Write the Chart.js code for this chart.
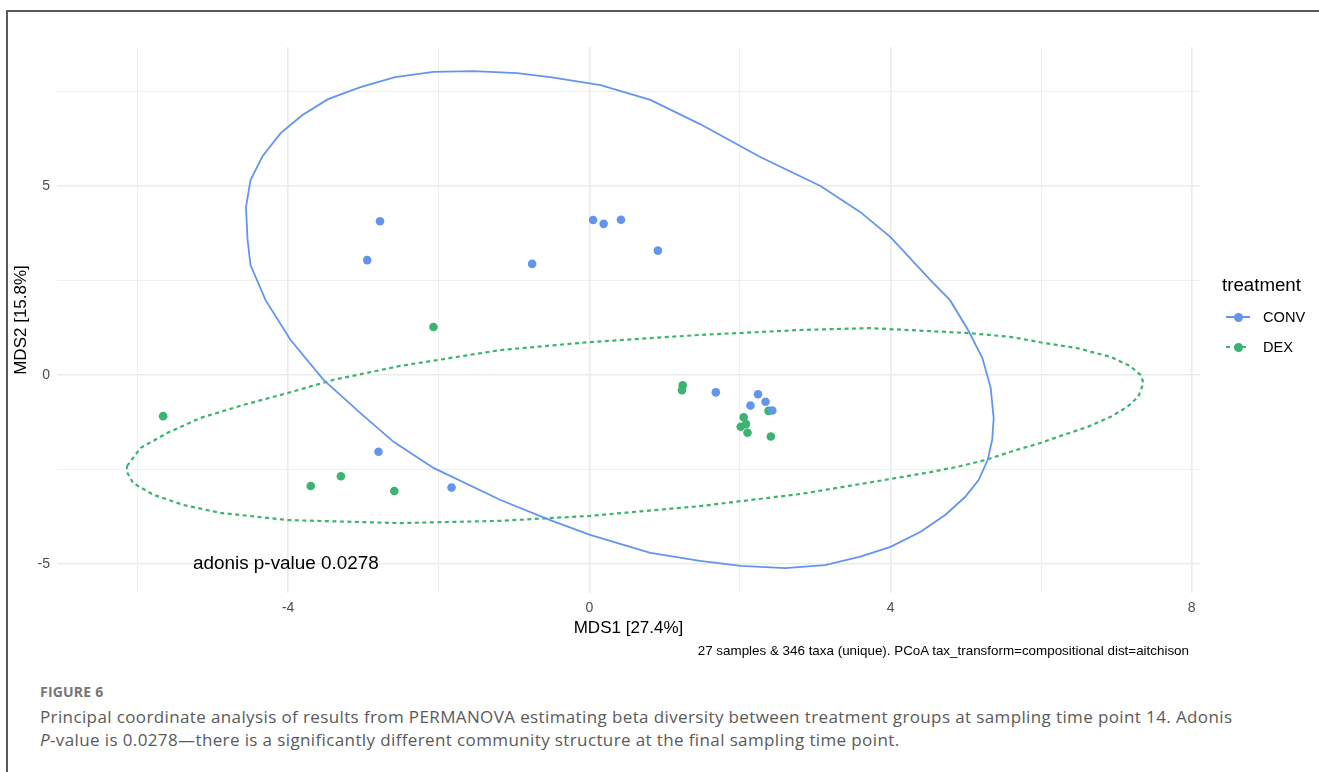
<!DOCTYPE html>
<html>
<head>
<meta charset="utf-8">
<script src="https://cdn.jsdelivr.net/npm/chart.js@4.4.0/dist/chart.umd.min.js"></script>
<style>
body { margin:0; background:#fff; width:1319px; height:772px; overflow:hidden; position:relative; font-family:"Liberation Sans", Arial, sans-serif; }
#frame { position:absolute; left:6px; top:10px; width:1313px; height:762px; border-top:2px solid #5a5a5a; border-left:2px solid #5a5a5a; box-sizing:border-box; }
#plot { position:absolute; left:0; top:0; }
#note { position:absolute; right:130px; top:643px; font-size:13.4px; color:#000; white-space:nowrap; }
#legend { position:absolute; left:1222px; top:274px; }
#legend .ttl { font-size:18.7px; color:#000; height:24px; margin-bottom:9px; }
#legend .item { position:relative; height:30px; font-size:14.6px; color:#000; line-height:20px; padding-left:41px; }
#legend .key { position:absolute; left:4px; top:9px; width:24px; height:2px; }
#legend .key i { position:absolute; left:8px; top:-3.5px; width:9px; height:9px; border-radius:50%; }
#cap { position:absolute; left:40px; top:682px; font-family:"Open Sans", Lato, sans-serif; color:#5a5a5a; }
#cap .fig { font-weight:700; font-size:14px; color:#767676; letter-spacing:0.2px; margin-bottom:4px; }
#cap .txt { font-size:17px; letter-spacing:0.38px; line-height:23px; white-space:nowrap; }
</style>
</head>
<body>
<div id="frame"></div>
<canvas id="plot" width="1319" height="660"></canvas>
<div id="note">27 samples &amp; 346 taxa (unique). PCoA tax_transform=compositional dist=aitchison</div>
<div id="legend">
  <div class="ttl">treatment</div>
  <div class="item"><span class="key" style="background:#6495ed"><i style="background:#6495ed"></i></span>CONV</div>
  <div class="item"><span class="key" style="background:repeating-linear-gradient(90deg,#3cb371 0 4px,transparent 4px 8px)"><i style="background:#3cb371"></i></span>DEX</div>
</div>
<div id="cap">
  <div class="fig">FIGURE 6</div>
  <div class="txt">Principal coordinate analysis of results from PERMANOVA estimating beta diversity between treatment groups at sampling time point 14. Adonis<br><i>P</i>-value is 0.0278—there is a significantly different community structure at the final sampling time point.</div>
</div>
<script>
'use strict';

var groups = ['CONV', 'DEX'];
var colors = ['#6495ed', '#3cb371'];

// sample scores (MDS1, MDS2)
var convX = [-2.78, -2.95, -0.76, 0.05, 0.19, 0.42, 0.91, 1.68, 2.24, 2.14, 2.34, 2.43, -2.80, -1.83];
var convY = [4.07, 3.04, 2.94, 4.10, 4.00, 4.11, 3.29, -0.46, -0.51, -0.81, -0.71, -0.94, -2.03, -2.98];
var dexX = [1.24, 1.23, 2.05, 2.08, 2.01, 2.10, 2.41, 2.38, -5.66, -3.30, -3.70, -2.59, -2.07];
var dexY = [-0.27, -0.40, -1.12, -1.30, -1.37, -1.53, -1.63, -0.95, -1.09, -2.68, -2.94, -3.07, 1.27];

// 95% ellipse outlines
var convEllX = [-1.54, -0.96, -0.52, 0.15, 0.81, 1.47, 2.27, 3.07, 3.60, 4.00, 4.53, 4.79, 5.03, 5.22, 5.33, 5.37, 5.35, 5.29, 5.17, 4.99, 4.73, 4.40, 4.00, 3.60, 3.13, 2.60, 2.01, 1.47, 0.81, 0.01, -0.52, -1.18, -2.07, -2.60, -3.04, -3.53, -3.97, -4.30, -4.50, -4.54, -4.56, -4.50, -4.34, -4.10, -3.81, -3.47, -3.04, -2.58, -2.07, -1.54];
var convEllY = [8.04, 7.99, 7.88, 7.67, 7.28, 6.64, 5.77, 5.00, 4.31, 3.65, 2.51, 1.98, 1.19, 0.45, -0.34, -1.14, -1.72, -2.25, -2.78, -3.23, -3.70, -4.15, -4.55, -4.81, -5.03, -5.11, -5.05, -4.92, -4.71, -4.23, -3.84, -3.31, -2.46, -1.77, -1.01, -0.13, 0.93, 1.98, 2.91, 3.60, 4.44, 5.16, 5.79, 6.40, 6.88, 7.30, 7.62, 7.88, 8.02, 8.04];
var dexEllX = [-6.14, -5.96, -5.60, -5.17, -4.59, -4.01, -3.40, -2.51, -1.18, 0.00, 1.47, 2.80, 3.73, 4.53, 5.03, 5.59, 6.03, 6.48, 6.92, 7.18, 7.32, 7.36, 7.29, 7.14, 6.92, 6.61, 6.29, 5.99, 5.63, 5.26, 4.89, 4.53, 3.86, 2.80, 1.47, 0.00, -1.18, -2.51, -4.01, -4.28, -4.90, -5.39, -5.79, -6.06, -6.14, -6.14];
var dexEllY = [-2.41, -1.93, -1.53, -1.14, -0.79, -0.48, -0.13, 0.24, 0.66, 0.87, 1.06, 1.19, 1.24, 1.16, 1.11, 1.01, 0.85, 0.71, 0.48, 0.24, 0.00, -0.21, -0.58, -0.85, -1.11, -1.38, -1.59, -1.80, -2.01, -2.25, -2.43, -2.57, -2.80, -3.15, -3.47, -3.73, -3.86, -3.92, -3.84, -3.78, -3.65, -3.44, -3.17, -2.86, -2.57, -2.41];

var xTicks = [-4, 0, 4, 8];
var xMinor = [-6, -2, 2, 6];
var yTicks = [-5, 0, 5];
var yMinor = [-2.5, 2.5, 7.5];
var xRange = [-7.07, 8.11];
var yRange = [-5.77, 8.68];

var noteText = 'adonis p-value 0.0278';
var notePos = [-4.03, -5];

function pts(xs, ys) {
  return xs.map(function (v, i) { return { x: v, y: ys[i] }; });
}

var family = '"Liberation Sans", Arial, sans-serif';
Chart.defaults.font.family = family;

var notePlugin = {
  id: 'note',
  afterDatasetsDraw: function (chart) {
    var ctx = chart.ctx;
    ctx.save();
    ctx.font = '18.9px ' + family;
    ctx.fillStyle = '#000';
    ctx.textAlign = 'center';
    ctx.textBaseline = 'middle';
    ctx.fillText(noteText, chart.scales.x.getPixelForValue(notePos[0]), chart.scales.y.getPixelForValue(notePos[1]));
    ctx.restore();
  }
};

function gridWidth(majors) {
  return function (c) {
    return c.tick && majors.indexOf(c.tick.value) >= 0 ? 1.6 : 0.8;
  };
}

new Chart(document.getElementById('plot').getContext('2d'), {
  type: 'scatter',
  data: {
    datasets: [{
      label: groups[0],
      data: pts(convX, convY),
      backgroundColor: colors[0],
      borderWidth: 0,
      pointRadius: 4.3
    }, {
      label: groups[1],
      data: pts(dexX, dexY),
      backgroundColor: colors[1],
      borderWidth: 0,
      pointRadius: 4.3
    }, {
      label: groups[0] + ' ellipse',
      data: pts(convEllX, convEllY),
      showLine: true,
      borderColor: colors[0],
      borderWidth: 1.8,
      pointRadius: 0,
      tension: 0
    }, {
      label: groups[1] + ' ellipse',
      data: pts(dexEllX, dexEllY),
      showLine: true,
      borderColor: colors[1],
      borderWidth: 2.2,
      borderDash: [4, 3.5],
      pointRadius: 0,
      tension: 0
    }]
  },
  options: {
    responsive: false,
    animation: false,
    devicePixelRatio: 1,
    layout: { padding: { left: 0, top: 47, right: 119, bottom: 18 } },
    plugins: { legend: { display: false }, tooltip: { enabled: false } },
    scales: {
      x: {
        type: 'linear',
        min: xRange[0],
        max: xRange[1],
        afterBuildTicks: function (s) {
          s.ticks = xMinor.concat(xTicks).sort(function (a, b) { return a - b; }).map(function (v) { return { value: v }; });
        },
        afterFit: function (s) { s.height = 49; },
        ticks: {
          autoSkip: false,
          maxRotation: 0,
          padding: 7,
          color: '#4d4d4d',
          font: { size: 14 },
          callback: function (v) { return xTicks.indexOf(v) >= 0 ? String(v) : ''; }
        },
        grid: { color: '#ebebeb', lineWidth: gridWidth(xTicks), drawTicks: false },
        border: { display: false },
        title: { display: true, text: 'MDS1 [27.4%]', color: '#000', font: { size: 17 }, padding: { top: 0, bottom: 3 } }
      },
      y: {
        type: 'linear',
        min: yRange[0],
        max: yRange[1],
        afterBuildTicks: function (s) {
          s.ticks = yMinor.concat(yTicks).sort(function (a, b) { return a - b; }).map(function (v) { return { value: v }; });
        },
        afterFit: function (s) { s.width = 57; },
        ticks: {
          autoSkip: false,
          padding: 7,
          color: '#4d4d4d',
          font: { size: 14 },
          callback: function (v) { return yTicks.indexOf(v) >= 0 ? String(v) : ''; }
        },
        grid: { color: '#ebebeb', lineWidth: gridWidth(yTicks), drawTicks: false },
        border: { display: false },
        title: { display: true, text: 'MDS2 [15.8%]', color: '#000', font: { size: 17 }, padding: { top: 11, bottom: 0 } }
      }
    }
  },
  plugins: [notePlugin]
});
</script>
</body>
</html>
